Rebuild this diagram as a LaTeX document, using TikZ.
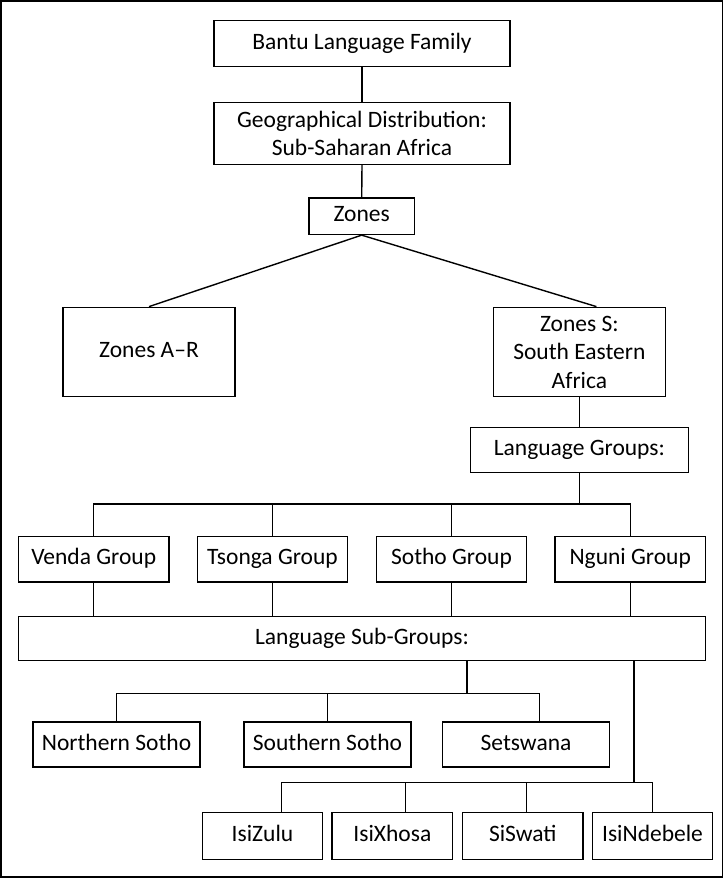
\documentclass[tikz,border=0pt]{standalone}
\usepackage{fontspec}
\setmainfont{Carlito}
\begin{document}
\begin{tikzpicture}[x=1pt,y=-1pt,
  box/.style={draw, line width=1.4pt, inner sep=0pt, align=center, font=\fontsize{23.5}{28.5}\selectfont, text height=16pt, text depth=5pt},
  conn/.style={line width=1.4pt}]
\useasboundingbox (0,0) rectangle (724,878);
\draw[line width=1.5pt] (0.75,0.75) rectangle (722.6,877);
% nodes
\node[box, minimum width=296pt, minimum height=46pt] (bantu) at (362,43.5) {Bantu Language Family};
\node[box, minimum width=296pt, minimum height=62pt, text height=, text depth=] (geo) at (362,133.5) {Geographical Distribution:\\Sub-Saharan Africa};
\node[box, minimum width=105.5pt, minimum height=36.5pt] (zones) at (361.7,216.2) {Zones};
\node[box, minimum width=172pt, minimum height=89.4pt] (zar) at (149,352) {Zones A--R};
\node[box, minimum width=171.8pt, minimum height=89.4pt, text height=, text depth=] (zs) at (579.4,352) {Zones S:\\South Eastern\\Africa};
\node[box, minimum width=218pt, minimum height=45.4pt] (lg) at (579.4,450) {Language Groups:};
\node[box, minimum width=150.5pt, minimum height=45.7pt] (venda) at (93.7,559.2) {Venda Group};
\node[box, minimum width=150.5pt, minimum height=45.7pt] (tsonga) at (272.5,559.2) {Tsonga Group};
\node[box, minimum width=150.5pt, minimum height=45.7pt] (sotho) at (451.5,559.2) {Sotho Group};
\node[box, minimum width=150.5pt, minimum height=45.7pt] (nguni) at (630.2,559.2) {Nguni Group};
\node[box, minimum width=687pt, minimum height=44.4pt] (lsg) at (362,638.5) {Language Sub-Groups:};
\node[box, minimum width=166.7pt, minimum height=45pt] (nso) at (116.5,744.5) {Northern Sotho};
\node[box, minimum width=166.7pt, minimum height=45pt] (sso) at (327.5,744.5) {Southern Sotho};
\node[box, minimum width=166.7pt, minimum height=45pt] (tsw) at (526,744.5) {Setswana};
\node[box, minimum width=120.5pt, minimum height=46.6pt] (zul) at (262.5,836) {IsiZulu};
\node[box, minimum width=120.5pt, minimum height=46.6pt] (xho) at (392.4,836) {IsiXhosa};
\node[box, minimum width=120.5pt, minimum height=46.6pt] (ssw) at (522.8,836) {SiSwati};
\node[box, minimum width=120.5pt, minimum height=46.6pt] (nde) at (652.5,836) {IsiNdebele};
% coordinates
\coordinate (lgbar) at (579.4,504);
\coordinate (sgA) at (467,660.7);
\coordinate (sgAbar) at (467,693.7);
\coordinate (sgB) at (634,660.7);
\coordinate (sgBbar) at (634,782.3);
% connectors
\draw[conn] (bantu.south) -- (geo.north);
\draw[conn] (geo.south) -- (zones.north);
\draw[conn] (zones.south) -- (zar.north);
\draw[conn] (zones.south) -- ([xshift=17pt]zs.north);
\draw[conn] (zs.south) -- (lg.north);
\draw[conn] (lg.south) -- (lgbar);
\draw[conn] (venda.north) -- (venda.north |- lgbar) -- (nguni.north |- lgbar) -- (nguni.north);
\draw[conn] (tsonga.north) -- (tsonga.north |- lgbar);
\draw[conn] (sotho.north) -- (sotho.north |- lgbar);
\draw[conn] (venda.south) -- (venda.south |- lsg.north);
\draw[conn] (tsonga.south) -- (tsonga.south |- lsg.north);
\draw[conn] (sotho.south) -- (sotho.south |- lsg.north);
\draw[conn] (nguni.south) -- (nguni.south |- lsg.north);
\draw[conn] (sgA) -- (sgAbar);
\draw[conn] (nso.north) -- (nso.north |- sgAbar) -- ([xshift=13.3pt]tsw.north |- sgAbar) -- ([xshift=13.3pt]tsw.north);
\draw[conn] (sso.north) -- (sso.north |- sgAbar);
\draw[conn] (sgB) -- (sgBbar);
\draw[conn] ([xshift=19.2pt]zul.north) -- ([xshift=19.2pt]zul.north |- sgBbar) -- (nde.north |- sgBbar) -- (nde.north);
\draw[conn] ([xshift=13.1pt]xho.north) -- ([xshift=13.1pt]xho.north |- sgBbar);
\draw[conn] ([xshift=3.5pt]ssw.north) -- ([xshift=3.5pt]ssw.north |- sgBbar);
\end{tikzpicture}
\end{document}
